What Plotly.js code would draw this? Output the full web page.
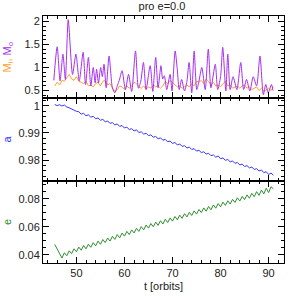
<!DOCTYPE html>
<html>
<head>
<meta charset="utf-8">
<script src="https://cdn.plot.ly/plotly-3.0.1.min.js"></script>
<style>html,body{margin:0;padding:0;background:#fff;}#chart{width:300px;height:300px;}</style>
</head>
<body>
<div id="chart"></div>
<script>
// Purple series (M_o): times and values
const tPurple = [45.3,46.0,46.6,47.2,47.7,48.3,49.2,49.9,50.6,51.4,51.9,52.5,53.0,53.5,53.9,54.2,54.6,55.05,55.4,55.75,56.2,56.8,57.5,58.0,58.5,59.0,59.5,60.2,60.85,61.5,62.3,62.9,63.4,63.95,64.5,65.35,65.9,66.5,67.0,67.6,67.95,68.3,68.8,69.5,69.9,70.55,71.0,71.4,71.9,72.5,73.0,73.45,74.0,74.5,75.05,75.5,76.1,76.8,77.45,78.0,78.9,79.4,80.0,80.45,81.1,81.5,82.0,82.6,83.4,84.2,84.8,85.4,86.1,86.8,87.5,88.2,88.9,89.4,89.9,90.6,90.9];
const mOuter = [0.72,1.45,0.71,1.29,0.74,2.04,0.85,1.29,0.71,1.33,0.63,1.22,0.60,1.00,0.67,0.96,0.67,1.00,0.80,1.07,0.56,1.25,0.55,0.45,0.60,0.75,0.93,0.52,0.85,0.48,1.36,0.55,0.70,1.11,0.52,1.04,0.48,1.22,0.56,1.04,0.75,0.82,0.52,0.85,0.49,1.36,0.95,0.52,0.74,0.49,0.70,1.11,0.45,1.36,0.52,0.70,1.00,0.52,1.40,0.56,1.07,0.52,0.80,1.44,0.49,1.29,0.52,0.80,0.52,1.11,0.52,0.74,0.49,0.80,0.60,1.25,0.41,0.63,0.45,0.63,0.50];

// Regular time grid for the other series
const tGrid = [45.5,46.0,46.5,47.0,47.5,48.0,48.5,49.0,49.5,50.0,50.5,51.0,51.5,52.0,52.5,53.0,53.5,54.0,54.5,55.0,55.5,56.0,56.5,57.0,57.5,58.0,58.5,59.0,59.5,60.0,60.5,61.0,61.5,62.0,62.5,63.0,63.5,64.0,64.5,65.0,65.5,66.0,66.5,67.0,67.5,68.0,68.5,69.0,69.5,70.0,70.5,71.0,71.5,72.0,72.5,73.0,73.5,74.0,74.5,75.0,75.5,76.0,76.5,77.0,77.5,78.0,78.5,79.0,79.5,80.0,80.5,81.0,81.5,82.0,82.5,83.0,83.5,84.0,84.5,85.0,85.5,86.0,86.5,87.0,87.5,88.0,88.5,89.0,89.5,90.0,90.5,91.0];

const mInner = [0.60,0.68,0.62,0.72, 0.70,0.78,0.85,0.75, 0.72,0.80,0.70,0.68, 0.65,0.70,0.60,0.62, 0.58,0.65,0.68,0.60, 0.70,0.72,0.62,0.65, 0.55,0.48,0.52,0.60, 0.58,0.52,0.60,0.55, 0.60,0.68,0.65,0.58, 0.55,0.60,0.52,0.58, 0.55,0.62,0.58,0.60, 0.55,0.60,0.70,0.65, 0.72,0.68,0.62,0.58, 0.60,0.55,0.58,0.62, 0.58,0.65,0.60,0.70, 0.68,0.72,0.65,0.75, 0.70,0.62,0.68,0.60, 0.62,0.58,0.65,0.70, 0.60,0.62,0.55,0.58, 0.60,0.55,0.60,0.62, 0.55,0.58,0.52,0.55, 0.58,0.50,0.55,0.48, 0.52,0.55,0.50,0.58];

const aVals = [1.00050,1.00010,1.00045,0.99995,1.00030,0.99960,0.99930,0.99880,0.99850,0.99800,
0.99785,0.99697,0.99726,0.99638,0.99671,0.99585,0.99617,0.99526,0.99556,0.99469,
0.99503,0.99415,0.99444,0.99354,0.99385,0.99299,0.99333,0.99244,0.99274,0.99185,
0.99215,0.99127,0.99160,0.99074,0.99118,0.99015,0.99045,0.98958,0.98992,0.98903,
0.98933,0.98843,0.98874,0.98788,0.98821,0.98733,0.98763,0.98674,0.98704,0.98615,
0.98649,0.98563,0.98594,0.98504,0.98533,0.98447,0.98481,0.98392,0.98422,0.98331,
0.98363,0.98277,0.98308,0.98222,0.98253,0.98163,0.98193,0.98106,0.98153,0.98051,
0.98081,0.97991,0.98022,0.97936,0.97969,0.97881,0.97911,0.97822,0.97852,0.97763,
0.97797,0.97711,0.97745,0.97652,0.97685,0.97595,0.97635,0.97536,0.97570,0.97471,
0.97518,0.97445];

const eVals = [0.0475,0.0445,0.0410,0.0378,0.0416,0.0395,0.0430,0.0409,0.0444,0.0423,
0.0456,0.0434,0.0467,0.0444,0.0477,0.0455,0.0488,0.0465,0.0499,0.0476,
0.0510,0.0488,0.0521,0.0499,0.0533,0.0511,0.0545,0.0522,0.0556,0.0534,
0.0568,0.0545,0.0579,0.0557,0.0590,0.0568,0.0602,0.0579,0.0613,0.0591,
0.0624,0.0601,0.0634,0.0611,0.0644,0.0621,0.0654,0.0631,0.0664,0.0641,
0.0674,0.0651,0.0684,0.0661,0.0694,0.0671,0.0704,0.0681,0.0714,0.0691,
0.0724,0.0702,0.0735,0.0712,0.0745,0.0722,0.0756,0.0733,0.0766,0.0743,
0.0776,0.0753,0.0786,0.0763,0.0796,0.0774,0.0807,0.0784,0.0817,0.0794,
0.0828,0.0804,0.0839,0.0815,0.0851,0.0824,0.0862,0.0835,0.0875,0.0844,
0.0886,0.0870];

const titleText = "pro e=0.0";
const xTitle = "t [orbits]";

const cPurple = "#a630f0", cOrange = "#ffa030", cBlue = "#3535ff", cGreen = "#2f8f2f";

const traces = [
  {x: tGrid, y: mInner, type: "scatter", mode: "lines", line: {color: cOrange, width: 1}, xaxis: "x3", yaxis: "y3", name: "M_i"},
  {x: tPurple, y: mOuter, type: "scatter", mode: "lines", line: {color: cPurple, width: 1, shape: "spline", smoothing: 0.7}, xaxis: "x3", yaxis: "y3", name: "M_o"},
  {x: tGrid, y: aVals, type: "scatter", mode: "lines", line: {color: cBlue, width: 1}, xaxis: "x2", yaxis: "y2", name: "a"},
  {x: tGrid, y: eVals, type: "scatter", mode: "lines", line: {color: cGreen, width: 1}, xaxis: "x", yaxis: "y", name: "e"}
];

const tickFont = {family: "Liberation Sans, Arial, sans-serif", size: 11, color: "#222"};
function xAx(anchor, labels, extra) {
  return Object.assign({
    anchor: anchor, range: [43.05, 93.2], dtick: 10, tick0: 0,
    ticks: "inside", ticklen: 6, tickwidth: 1, tickcolor: "#000",
    minor: {ticks: "inside", ticklen: 3, dtick: 2, tick0: 0, tickcolor: "#000"},
    showline: true, linecolor: "#000", linewidth: 1, mirror: "ticks",
    showgrid: false, zeroline: false, showticklabels: labels, tickfont: tickFont
  }, extra || {});
}
function yAx(domain, range, dtick, minor, title, extra) {
  return Object.assign({
    domain: domain, range: range, dtick: dtick, tick0: 0,
    ticks: "inside", ticklen: 6, tickwidth: 1, tickcolor: "#000",
    minor: {ticks: "inside", ticklen: 3, dtick: minor, tick0: 0, tickcolor: "#000"},
    showline: true, linecolor: "#000", linewidth: 1, mirror: "ticks",
    showgrid: false, zeroline: false, tickfont: tickFont, title: title
  }, extra || {});
}

const layout = {
  width: 300, height: 300,
  margin: {l: 43, r: 16, t: 16, b: 37},
  paper_bgcolor: "#fff", plot_bgcolor: "#fff",
  showlegend: false,
  title: {text: titleText, x: 0.54, xref: "container", y: 0.978, yref: "container", yanchor: "middle",
          font: {family: "Liberation Sans, Arial, sans-serif", size: 11, color: "#222"}},
  xaxis: xAx("y", true, {title: {text: xTitle, font: {family: "Liberation Sans, Arial, sans-serif", size: 11, color: "#222"}, standoff: 4}}),
  xaxis2: xAx("y2", false, {matches: "x"}),
  xaxis3: xAx("y3", false, {matches: "x"}),
  yaxis: yAx([0, 0.3333], [0.0343, 0.0929], 0.02, 0.005,
      {text: "e", font: {family: "Liberation Sans, Arial, sans-serif", size: 11, color: cGreen}}),
  yaxis2: yAx([0.3333, 0.6667], [0.9724, 1.0028], 0.01, 0.002,
      {text: "a", font: {family: "Liberation Sans, Arial, sans-serif", size: 11, color: cBlue}}),
  yaxis3: yAx([0.6667, 1], [0.33, 2.12], 0.5, 0.1,
      {text: '<span style="color:' + cOrange + '">M<sub>i</sub>,</span> <span style="color:' + cPurple + '">M<sub>o</sub></span>',
       font: {family: "Liberation Sans, Arial, sans-serif", size: 11, color: cPurple}})
};

Plotly.newPlot("chart", traces, layout, {staticPlot: true, displayModeBar: false});
</script>
</body>
</html>
